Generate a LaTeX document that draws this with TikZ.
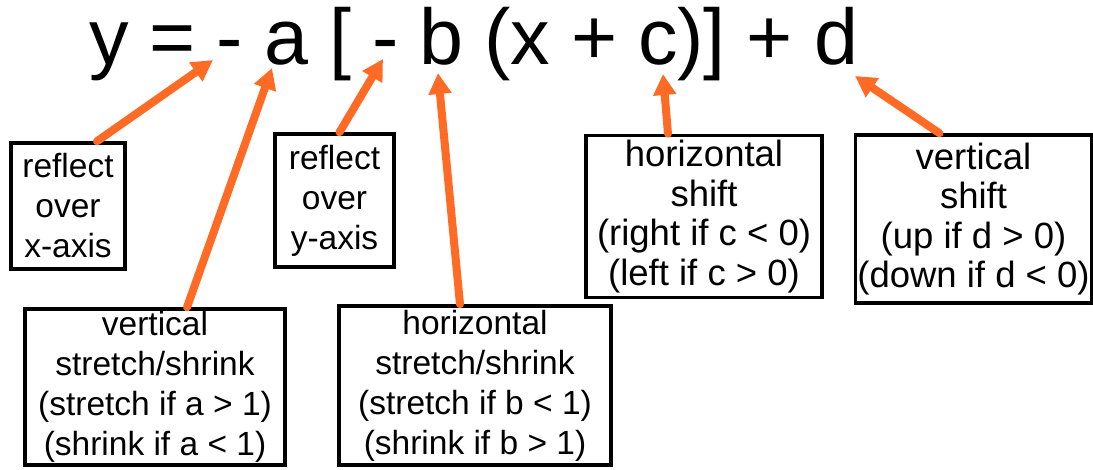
\documentclass[tikz,border=0pt]{standalone}
\usepackage{fontspec}
\setsansfont{Liberation Sans}
\usetikzlibrary{arrows.meta, calc}
\definecolor{mOrange}{HTML}{FF6B24}

\begin{document}
\begin{tikzpicture}[
  x=1pt, y=-1pt,
  every node/.style={font=\sffamily},
  box/.style={draw=black, line width=3.5pt, inner sep=0pt, align=center,
              font=\sffamily\fontsize{33.5}{40}\selectfont},
  bigbox/.style={box, font=\sffamily\fontsize{36.5}{39.5}\selectfont},
  arr/.style={-{Triangle[length=21pt, width=22pt]}, line width=8pt,
              line cap=round, mOrange},
]
  \useasboundingbox (0,0) rectangle (1093,470);

  % Equation
  \node[inner sep=0pt, anchor=base west,
        font=\sffamily\fontsize{79}{90}\selectfont] (eq) at (89,65)
        {\spaceskip=21pt\relax y = - a [ - b (x + c)] + d};

  % Arrow tips on the equation
  \coordinate (tA) at (213,60);
  \coordinate (tB) at (272,68);
  \coordinate (tC) at (383,59);
  \coordinate (tD) at (438,73);
  \coordinate (tE) at (663,74);
  \coordinate (tF) at (855,76);

  % Boxes
  \node[box, minimum width=114, minimum height=126] (b1) at (68,206)
    {reflect\\over\\x-axis};
  \node[box, minimum width=119, minimum height=133] (b2) at (334.5,200.5)
    {reflect\\over\\y-axis};
  \node[box, minimum width=260, minimum height=156] (b3) at (155,387)
    {vertical\\stretch/shrink\\(stretch if a > 1)\\(shrink if a < 1)};
  \node[box, minimum width=272, minimum height=159] (b4) at (475,385.5)
    {horizontal\\stretch/shrink\\(stretch if b < 1)\\(shrink if b > 1)};
  \node[bigbox, minimum width=236, minimum height=162] (b5) at (704,216.5)
    {horizontal\\shift\\(right if c < 0)\\(left if c > 0)};
  \node[bigbox, minimum width=236, minimum height=168] (b6) at (973.5,219)
    {vertical\\shift\\(up if d > 0)\\(down if d < 0)};

  % Arrows
  \draw[arr] ($(b1.north)+(29,0)$) -- (tA);
  \draw[arr] ($(b3.north)+(32,0)$) -- (tB);
  \draw[arr] ($(b2.north)+(5,0)$) -- (tC);
  \draw[arr] ($(b4.north)+(-15,0)$) -- (tD);
  \draw[arr] ($(b5.north)+(-36,0)$) -- (tE);
  \draw[arr] ($(b6.north)+(-34,0)$) -- (tF);
\end{tikzpicture}
\end{document}
